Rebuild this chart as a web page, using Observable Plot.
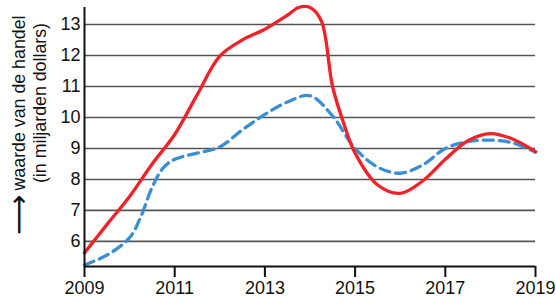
<!DOCTYPE html>
<html><head><meta charset="utf-8">
<script src="https://cdn.jsdelivr.net/npm/d3@7"></script>
<script src="https://cdn.jsdelivr.net/npm/@observablehq/plot@0.6"></script>
<style>html,body{margin:0;padding:0;background:#fff}</style>
</head><body><div id="chart"></div>
<script>
const redYears   = [2009, 2009.5, 2010, 2010.5, 2011, 2011.5, 2012, 2012.5, 2013, 2013.5, 2013.75, 2014, 2014.25, 2014.5, 2014.75, 2015, 2015.5, 2016, 2016.5, 2017, 2017.5, 2018, 2018.5, 2019];
const redValues  = [5.63, 6.55, 7.45, 8.5, 9.45, 10.74, 11.98, 12.5, 12.85, 13.3, 13.55, 13.55, 13.12, 11.0, 9.8, 8.85, 7.82, 7.55, 7.95, 8.65, 9.25, 9.48, 9.3, 8.9];
const blueYears  = [2009, 2009.5, 2010, 2010.25, 2010.5, 2010.75, 2011, 2011.5, 2012, 2012.5, 2013, 2013.5, 2014, 2014.5, 2015, 2015.5, 2016, 2016.5, 2017, 2017.5, 2018, 2018.5, 2019];
const blueValues = [5.24, 5.56, 6.12, 6.8, 7.75, 8.38, 8.65, 8.85, 9.05, 9.6, 10.1, 10.5, 10.7, 10.05, 9.0, 8.4, 8.2, 8.47, 9.0, 9.22, 9.27, 9.18, 8.88];
const xTicks = [2009, 2011, 2013, 2015, 2017, 2019];
const yTicks = [6, 7, 8, 9, 10, 11, 12, 13];
const labelLine1 = "waarde van de handel";
const labelLine2 = "(in miljarden dollars)";
const arrowGlyph = "⟶";

const red = redYears.map((x, i) => ({x, y: redValues[i]}));
const blue = blueYears.map((x, i) => ({x, y: blueValues[i]}));
const yMin = 5.19, yMax = 13.55;

const chart = Plot.plot({
  width: 556, height: 306,
  marginLeft: 84, marginRight: 21, marginTop: 7, marginBottom: 40,
  style: {fontFamily: "'Liberation Sans', Arial, sans-serif", fontSize: "18px", color: "#111", background: "#fff"},
  x: {domain: [2009, 2019]},
  y: {domain: [yMin, yMax]},
  marks: [
    Plot.ruleY(yTicks, {stroke: "#555", strokeWidth: 1.6}),
    Plot.line(blue, {x: "x", y: "y", stroke: "#3a8fd4", strokeWidth: 3.3, strokeDasharray: "10,6", curve: "catmull-rom"}),
    Plot.line(red, {x: "x", y: "y", stroke: "#ee2228", strokeWidth: 3.3, curve: "catmull-rom"}),
    Plot.ruleX([2009], {stroke: "#111", strokeWidth: 2}),
    Plot.ruleY([yMin], {stroke: "#111", strokeWidth: 2}),
    Plot.axisX({ticks: xTicks, tickFormat: d => String(d), tickSize: 11, tickPadding: 4, strokeWidth: 2, stroke: "#111", fontSize: 18, label: null}),
    Plot.axisY({ticks: yTicks, tickSize: 0, tickPadding: 4, fontSize: 18, label: null}),
    Plot.text([labelLine1], {text: d => d, frameAnchor: "top-left", rotate: -90, textAnchor: "middle", lineAnchor: "middle", dx: -65, dy: 95.5, fontSize: 17.8, fill: "#111"}),
    Plot.text([labelLine2], {text: d => d, frameAnchor: "top-left", rotate: -90, textAnchor: "middle", lineAnchor: "middle", dx: -44, dy: 95.5, fontSize: 17.8, fill: "#111"}),
    Plot.text([arrowGlyph], {text: d => d, frameAnchor: "top-left", rotate: -90, textAnchor: "middle", lineAnchor: "middle", dx: -65, dy: 207.5, fontSize: 28, fill: "#111", fontFamily: "DejaVu Sans"})
  ]
});
document.getElementById("chart").appendChild(chart);
</script>
</body></html>
